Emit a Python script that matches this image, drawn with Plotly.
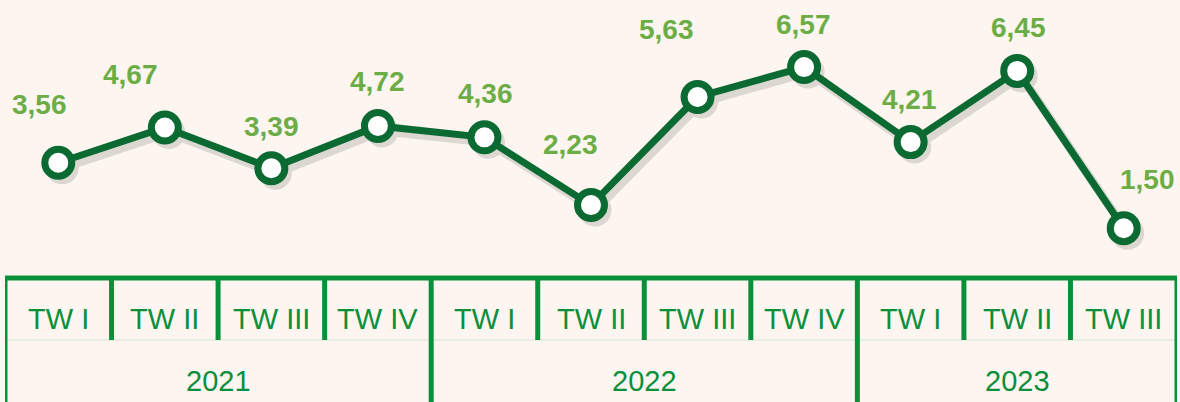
import plotly.graph_objects as go

# ---- data ----
quarters = ["TW I", "TW II", "TW III", "TW IV", "TW I", "TW II", "TW III", "TW IV", "TW I", "TW II", "TW III"]
years = ["2021", "2022", "2023"]
year_counts = [4, 4, 3]
values = [3.56, 4.67, 3.39, 4.72, 4.36, 2.23, 5.63, 6.57, 4.21, 6.45, 1.50]

# ---- style ----
BG = "#fdf6f0"
TABLE = "#0a8f3b"
LINE = "#0b6a31"
LABEL = "#6cad46"
FONT = "Liberation Sans, Arial, sans-serif"
W, H = 1180, 402
ML, MR = 5, 3
# label offsets in px (dx right, dy up)
LABEL_DX = [-19, -34, 0, 0, 1, -21, -31, -1, -1, 1, 24]
LABEL_DY = [58, 53, 42, 44, 44, 61, 67, 43, 43, 43, 49]

n = len(values)
xs = list(range(n))
PX_PER_UNIT_Y = 31.8
ZERO_PX = 276
y_max = ZERO_PX / PX_PER_UNIT_Y
y_min = -(H - ZERO_PX) / PX_PER_UNIT_Y
x_range = [-0.5, n - 0.5]
px_per_x = (W - ML - MR) / n

# shadow offset
SDX, SDY = 4, 5

fig = go.Figure()
# shadow on base axes (drawn first)
fig.add_trace(go.Scatter(
    x=xs, y=values, mode="lines+markers",
    line=dict(color="#000000", width=9),
    marker=dict(size=33, color="#000000", line=dict(width=0)),
    opacity=0.12, hoverinfo="skip", showlegend=False,
    xaxis="x", yaxis="y",
))
# main line on overlay axes
fig.add_trace(go.Scatter(
    x=xs, y=values, mode="lines+markers",
    line=dict(color=LINE, width=7),
    marker=dict(size=27, color="white", line=dict(color=LINE, width=7)),
    showlegend=False, xaxis="x2", yaxis="y2",
))

annotations = []
for i, v in enumerate(values):
    annotations.append(dict(
        x=i, y=v, xref="x2", yref="y2",
        text=f"{v:.2f}".replace(".", ","), showarrow=False,
        xshift=LABEL_DX[i], yshift=LABEL_DY[i],
        font=dict(family=FONT, size=28, color=LABEL, weight="bold"),
    ))

def py(p):
    return 1 - p / H

TOP_PX = 278
MID_PX = 340
shapes = []
# faint mid line
shapes.append(dict(type="line", xref="x2", yref="paper", x0=x_range[0], x1=x_range[1],
                   y0=py(MID_PX), y1=py(MID_PX), line=dict(color="rgba(140,190,140,0.35)", width=1)))
# top line
shapes.append(dict(type="line", xref="x2", yref="paper", x0=x_range[0] - 0.02, x1=x_range[1] + 0.02,
                   y0=py(TOP_PX), y1=py(TOP_PX), line=dict(color=TABLE, width=5)))
# vertical lines
year_bounds = [0]
for c in year_counts:
    year_bounds.append(year_bounds[-1] + c)
for b in range(n + 1):
    full = b in year_bounds
    shapes.append(dict(type="line", xref="x2", yref="paper",
                       x0=b - 0.5, x1=b - 0.5,
                       y0=py(TOP_PX), y1=0 if full else py(MID_PX),
                       line=dict(color=TABLE, width=5)))

for i, q in enumerate(quarters):
    annotations.append(dict(x=i, y=py(319), xref="x2", yref="paper", text=q, showarrow=False,
                            yanchor="middle", font=dict(family=FONT, size=29, color=TABLE)))
for k, yr in enumerate(years):
    cx = (year_bounds[k] + year_bounds[k + 1] - 1) / 2
    annotations.append(dict(x=cx, y=py(381), xref="x2", yref="paper", text=yr, showarrow=False,
                            yanchor="middle", font=dict(family=FONT, size=29, color=TABLE)))

ax_common = dict(showgrid=False, zeroline=False, showticklabels=False, showline=False, ticks="")
fig.update_layout(
    width=W, height=H,
    margin=dict(l=ML, r=MR, t=0, b=0),
    paper_bgcolor=BG, plot_bgcolor=BG,
    xaxis=dict(range=[x_range[0] - SDX / px_per_x, x_range[1] - SDX / px_per_x], **ax_common),
    yaxis=dict(range=[y_min + SDY / PX_PER_UNIT_Y, y_max + SDY / PX_PER_UNIT_Y], **ax_common),
    xaxis2=dict(range=x_range, overlaying="x", **ax_common),
    yaxis2=dict(range=[y_min, y_max], overlaying="y", **ax_common),
    annotations=annotations, shapes=shapes,
    showlegend=False,
)

fig.write_html(
    "out.html",
    config={"displayModeBar": False, "staticPlot": True},
    post_script="document.body.style.margin='0';document.body.style.overflow='hidden';"
                "document.body.style.background='" + BG + "';",
)
